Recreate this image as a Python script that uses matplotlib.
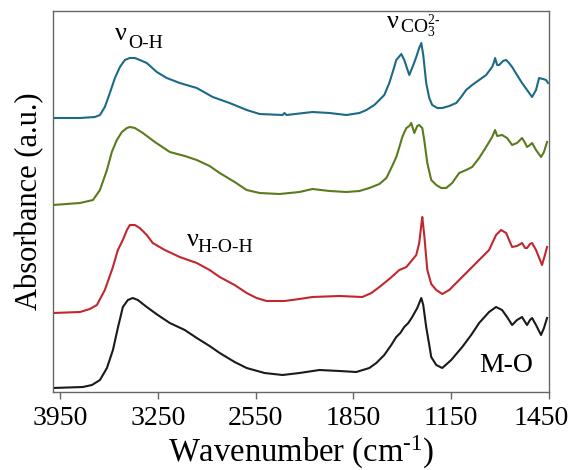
import matplotlib
matplotlib.use("Agg")
import matplotlib.pyplot as plt
import matplotlib.transforms as mtransforms

plt.rcParams['font.family'] = ['Liberation Serif', 'DejaVu Serif']
plt.rcParams['mathtext.fontset'] = 'custom'
plt.rcParams['mathtext.rm'] = 'Liberation Serif'
plt.rcParams['mathtext.it'] = 'Liberation Serif:italic'

# ---------------- Data (wavenumber cm^-1, absorbance a.u., stacked) ----------------
wn_blue = [4000, 3807, 3700, 3664, 3629, 3593, 3557, 3521, 3486, 3450, 3414, 3379, 3329, 3257, 3186,
           3093, 2971, 2857, 2736, 2614, 2521, 2357, 2343, 2329, 2143, 2021, 1900, 1807, 1757, 1700,
           1664, 1629, 1593, 1564, 1543, 1507, 1486, 1450, 1421, 1400, 1379, 1364, 1350, 1329, 1307,
           1286, 1250, 1214, 1164, 1114, 1079, 1043, 1000, 950, 900, 857, 843, 836, 821, 807,
           779, 757, 736, 714, 679, 643, 607, 571, 543, 521, 493, 471, 457]
ab_blue = [2.74, 2.74, 2.75, 2.77, 2.85, 2.99, 3.14, 3.25, 3.32, 3.34, 3.34, 3.32, 3.29, 3.20, 3.14,
           3.09, 3.04, 2.95, 2.89, 2.82, 2.78, 2.77, 2.79, 2.77, 2.80, 2.79, 2.77, 2.79, 2.82, 2.87,
           2.92, 2.97, 3.09, 3.22, 3.32, 3.38, 3.32, 3.17, 3.27, 3.35, 3.44, 3.49, 3.37, 3.09, 2.94,
           2.87, 2.84, 2.84, 2.86, 2.89, 2.95, 3.02, 3.07, 3.12, 3.17, 3.25, 3.30, 3.34, 3.27, 3.27,
           3.31, 3.32, 3.29, 3.25, 3.17, 3.09, 3.02, 2.95, 3.02, 3.14, 3.13, 3.12, 3.09]

wn_green = [4000, 3807, 3714, 3664, 3614, 3579, 3543, 3507, 3471, 3450, 3414, 3357, 3271, 3164, 3057,
            2971, 2879, 2807, 2700, 2614, 2521, 2379, 2236, 2143, 2021, 1900, 1807, 1736, 1664, 1614,
            1579, 1543, 1521, 1500, 1471, 1450, 1436, 1414, 1393, 1379, 1357, 1343, 1321, 1293, 1257,
            1221, 1186, 1143, 1093, 1043, 1000, 950, 900, 857, 836, 821, 786, 750, 714, 679,
            643, 621, 607, 586, 571, 543, 507, 486, 464]
ab_green = [1.87, 1.89, 1.92, 2.02, 2.22, 2.40, 2.52, 2.60, 2.64, 2.65, 2.64, 2.59, 2.50, 2.40, 2.36,
            2.32, 2.26, 2.19, 2.10, 2.02, 1.99, 1.98, 2.00, 2.03, 2.01, 2.00, 2.01, 2.04, 2.08, 2.14,
            2.24, 2.35, 2.45, 2.55, 2.64, 2.66, 2.69, 2.59, 2.66, 2.67, 2.64, 2.52, 2.29, 2.12, 2.07,
            2.04, 2.04, 2.09, 2.19, 2.22, 2.25, 2.34, 2.45, 2.55, 2.62, 2.56, 2.57, 2.54, 2.47, 2.49,
            2.54, 2.49, 2.45, 2.47, 2.49, 2.42, 2.35, 2.40, 2.50]

wn_red = [4000, 3807, 3736, 3686, 3629, 3571, 3536, 3500, 3471, 3450, 3414, 3379, 3329, 3286, 3200,
          3093, 2971, 2879, 2807, 2700, 2614, 2543, 2471, 2343, 2236, 2143, 1950, 1786, 1721, 1664,
          1593, 1521, 1471, 1429, 1400, 1379, 1364, 1357, 1343, 1321, 1293, 1257, 1214, 1164, 1114,
          1057, 1007, 950, 879, 829, 793, 757, 714, 679, 643, 621, 607, 586, 571, 543,
          500, 479, 464]
ab_red = [0.79, 0.80, 0.83, 0.87, 1.02, 1.25, 1.42, 1.52, 1.62, 1.67, 1.67, 1.64, 1.57, 1.49, 1.42,
          1.35, 1.29, 1.22, 1.15, 1.07, 0.99, 0.94, 0.91, 0.91, 0.93, 0.95, 0.96, 0.95, 0.99, 1.05,
          1.13, 1.22, 1.25, 1.32, 1.37, 1.49, 1.67, 1.75, 1.57, 1.22, 1.08, 1.02, 0.98, 1.02, 1.09,
          1.17, 1.24, 1.32, 1.42, 1.57, 1.62, 1.59, 1.45, 1.46, 1.49, 1.44, 1.44, 1.48, 1.49, 1.42,
          1.27, 1.37, 1.45]

wn_black = [4000, 3786, 3721, 3664, 3614, 3571, 3536, 3500, 3464, 3429, 3393, 3329, 3250, 3164, 3057,
            2971, 2879, 2807, 2700, 2614, 2486, 2357, 2236, 2093, 1950, 1829, 1736, 1686, 1629, 1579,
            1543, 1514, 1486, 1457, 1429, 1393, 1364, 1350, 1329, 1307, 1293, 1257, 1214, 1150, 1071,
            1007, 950, 879, 829, 786, 750, 714, 679, 643, 621, 607, 586, 571, 543, 507,
            486, 464]
ab_black = [0.04, 0.05, 0.07, 0.12, 0.24, 0.42, 0.64, 0.85, 0.92, 0.94, 0.92, 0.85, 0.77, 0.69, 0.62,
            0.54, 0.46, 0.39, 0.30, 0.24, 0.19, 0.17, 0.19, 0.22, 0.21, 0.20, 0.24, 0.29, 0.37, 0.47,
            0.55, 0.59, 0.65, 0.69, 0.75, 0.84, 0.94, 0.87, 0.65, 0.47, 0.35, 0.27, 0.24, 0.32, 0.45,
            0.57, 0.69, 0.80, 0.85, 0.82, 0.75, 0.67, 0.72, 0.75, 0.70, 0.67, 0.72, 0.74, 0.67, 0.57,
            0.64, 0.74]

tick_pos = [3950, 3250, 2550, 1850, 1150, 450]
tick_labels = ['3950', '3250', '2550', '1850', '1150', '1450']

# ---------------- Figure ----------------
fig = plt.figure(figsize=(5.71, 4.70), dpi=100)
ax = fig.add_axes([53/571, 78/470, 496/571, 381/470])

lw = 1.5
ax.plot(wn_blue, ab_blue, color='#1d6a86', lw=lw)
ax.plot(wn_green, ab_green, color='#5a7b1d', lw=lw)
ax.plot(wn_red, ab_red, color='#c1272d', lw=lw)
ax.plot(wn_black, ab_black, color='#1a1a1a', lw=lw)

ax.set_xlim(4000, 450)
ax.set_ylim(0, 3.81)
ax.set_xticks(tick_pos)
ax.set_xticklabels(tick_labels, fontsize=20)
ax.set_yticks([])
ax.tick_params(axis='x', direction='out', length=5, width=1, color='#666666', pad=5)
for s in ax.spines.values():
    s.set_color('#666666')
    s.set_linewidth(1.0)

# shift the last tick label slightly left (as in the reference)
last = ax.get_xticklabels()[-1]
last.set_transform(last.get_transform() + mtransforms.ScaledTranslation(-8/100, 0, fig.dpi_scale_trans))

ax.set_xlabel(r'Wavenumber (cm$^{\mathrm{\text{-}1}}$)', fontsize=23.5, labelpad=2)
ax.set_ylabel('Absorbance (a.u.)', fontsize=22, labelpad=6)

# annotations: upright nu + subscripts
nu_size = 19
sub_size = 14
ax.text(3557, 3.52, 'ν', fontsize=nu_size, ha='left', va='baseline')
ax.text(3464, 3.44, 'O-H', fontsize=sub_size, ha='left', va='baseline')

ax.text(1607, 3.64, 'ν', fontsize=nu_size, ha='left', va='baseline')
ax.text(1514, 3.59, r'$\mathrm{CO_3^{2\text{-}}}$', fontsize=sub_size, ha='left', va='baseline')

ax.text(3043, 1.46, 'ν', fontsize=nu_size, ha='left', va='baseline')
ax.text(2964, 1.40, 'H-O-H', fontsize=sub_size, ha='left', va='baseline')

ax.text(950, 0.20, 'M-O', fontsize=20, ha='left', va='baseline')

fig.savefig('out.png', dpi=100)
